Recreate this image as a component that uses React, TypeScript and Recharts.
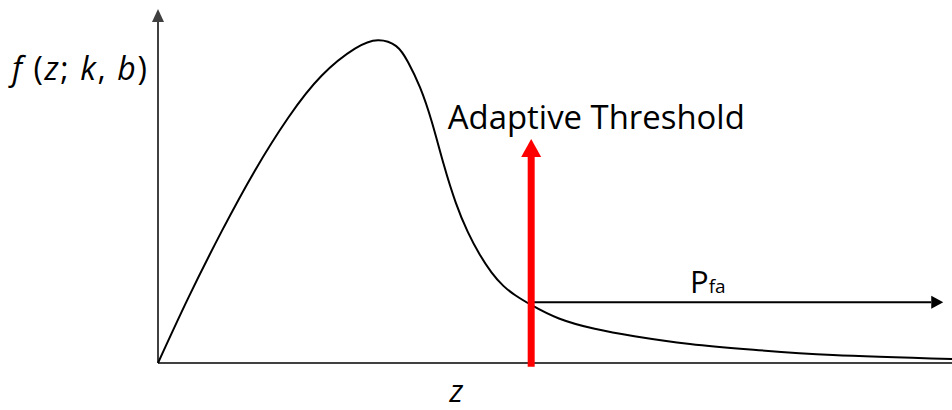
import { ComposedChart, Line, XAxis, YAxis, ReferenceLine, ReferenceDot } from 'recharts'

// density curve f(z; k, b), sampled by hand
const zValues = [0, 0.38, 0.8, 1.22, 1.64, 2.06, 2.48, 2.77, 3.0, 3.15, 3.3, 3.45, 3.6, 3.75, 3.9, 4.05, 4.2, 4.35, 4.5, 4.7, 5.05, 5.5, 6.0, 6.7, 7.5, 8.5, 10]
const fValues = [0, 0.201, 0.407, 0.596, 0.76, 0.89, 0.974, 1.0, 0.982, 0.932, 0.854, 0.746, 0.614, 0.497, 0.407, 0.337, 0.281, 0.239, 0.21, 0.18, 0.138, 0.106, 0.083, 0.059, 0.041, 0.025, 0.0125]

const threshold = 4.7
const thresholdArrowTop = 0.694
const pfaLevel = 0.188
const pfaArrowEnd = 9.89
const yAxisTop = 1.097

const data = zValues.map((z, i) => ({ z, f: fValues[i] }))

const FONT = '"Open Sans", "Noto Sans", sans-serif'
const AXIS = '#404040'

function arrow(color: string, width: number, headLen: number, headHalf: number) {
  return (p: any) => {
    const { x1, y1, x2, y2 } = p
    const dx = x2 - x1
    const dy = y2 - y1
    const len = Math.hypot(dx, dy) || 1
    const ux = dx / len
    const uy = dy / len
    const bx = x2 - ux * headLen
    const by = y2 - uy * headLen
    const nx = -uy * headHalf
    const ny = ux * headHalf
    return (
      <g>
        <line x1={x1} y1={y1} x2={bx} y2={by} stroke={color} strokeWidth={width} />
        <polygon points={`${x2},${y2} ${bx + nx},${by + ny} ${bx - nx},${by - ny}`} fill={color} />
      </g>
    )
  }
}

export default function App() {
  return (
    <div style={{ position: 'absolute', left: 0, top: 0, background: '#fff' }}>
      <ComposedChart width={952} height={410} data={data} margin={{ top: 8, right: 0, bottom: 47, left: 158 }}>
        <XAxis dataKey="z" type="number" domain={[0, 10]} hide />
        <YAxis type="number" domain={[0, 1.1]} hide />

        {/* axes */}
        <ReferenceLine y={0} stroke={AXIS} strokeWidth={2} ifOverflow="visible" />
        <ReferenceLine
          segment={[{ x: 0, y: 0 }, { x: 0, y: yAxisTop }]}
          ifOverflow="visible"
          shape={arrow(AXIS, 2, 13, 6)}
        />

        <Line type="natural" dataKey="f" stroke="#000" strokeWidth={2} dot={false} isAnimationActive={false} />

        {/* P_fa arrow */}
        <ReferenceLine
          segment={[{ x: threshold, y: pfaLevel }, { x: pfaArrowEnd, y: pfaLevel }]}
          ifOverflow="visible"
          shape={arrow('#000', 2, 12, 6.5)}
        />

        {/* adaptive threshold */}
        <ReferenceLine
          segment={[{ x: threshold, y: -0.012 }, { x: threshold, y: thresholdArrowTop }]}
          ifOverflow="visible"
          shape={arrow('#ff0000', 7, 18, 10)}
        />

        <ReferenceDot
          x={3.65}
          y={0.725}
          ifOverflow="visible"
          shape={(p: any) => (
            <text x={p.cx} y={p.cy} fontFamily={FONT} fontSize={32} fill="#000" textLength={297} lengthAdjust="spacingAndGlyphs">
              Adaptive Threshold
            </text>
          )}
        />
        <ReferenceDot
          x={6.7}
          y={0.217}
          ifOverflow="visible"
          shape={(p: any) => (
            <text x={p.cx} y={p.cy} fontFamily={FONT} fontSize={31} fill="#000">
              P<tspan fontSize={19}>fa</tspan>
            </text>
          )}
        />
        <ReferenceDot
          x={3.67}
          y={-0.121}
          ifOverflow="visible"
          shape={(p: any) => (
            <text x={p.cx} y={p.cy} fontFamily={FONT} fontSize={31} fontStyle="italic" fill="#000">
              z
            </text>
          )}
        />
        <ReferenceDot
          x={-1.84}
          y={0.877}
          ifOverflow="visible"
          shape={(p: any) => (
            <text x={p.cx} y={p.cy} fontFamily={FONT} fontSize={32} fill="#000" textLength={135} lengthAdjust="spacing">
              <tspan fontStyle="italic">f</tspan> (<tspan fontStyle="italic">z</tspan>; <tspan fontStyle="italic">k</tspan>, <tspan fontStyle="italic">b</tspan>)
            </text>
          )}
        />
      </ComposedChart>
    </div>
  )
}
